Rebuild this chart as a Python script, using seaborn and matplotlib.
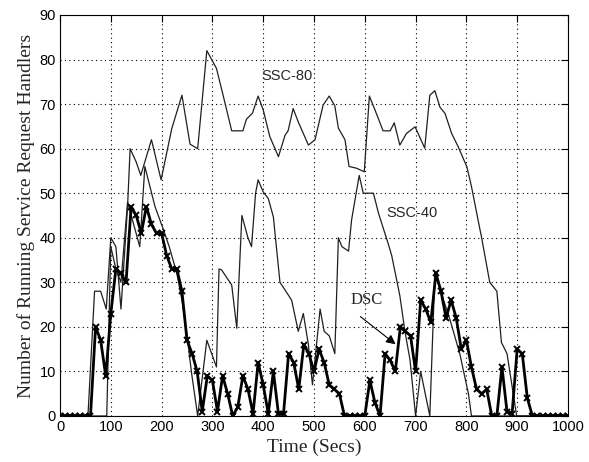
import numpy as np
import pandas as pd
import matplotlib
matplotlib.use("Agg")
import matplotlib.pyplot as plt
import seaborn as sns

# ---------------- data ----------------
# SSC-80 vertices (time, value)
ssc80_t = [0, 55, 68, 80, 91, 100, 110, 120, 133, 138, 150, 159, 180, 199, 220, 240, 256, 271,
           289, 308, 321, 338, 360, 367, 379, 390, 400, 413, 430, 443, 449, 459, 469, 489, 502,
           518, 530, 541, 548, 561, 569, 584, 599, 609, 620, 636, 650, 658, 669, 682, 699, 718,
           728, 738, 748, 758, 771, 784, 801, 810, 823, 830, 846, 860, 869, 880, 899, 1000]
ssc80_v = [0, 0, 28, 28, 24, 40, 38, 24, 47, 60, 57, 54, 62, 53, 64.5, 72, 61, 60,
           82, 78, 72, 64, 64, 66.6, 68, 71.8, 68.7, 62.7, 58.2, 63, 64, 69, 66, 60.8, 62,
           69.8, 71.8, 69.6, 64.6, 62, 56, 55.6, 54.8, 71.8, 68.7, 64, 64, 65.8, 60.8, 63.4, 64.9, 60.1,
           72, 73, 69.3, 67.9, 63.4, 60.4, 55.9, 51.5, 44, 40, 30, 28, 16.5, 14, 0, 0]

# SSC-40 vertices (time, value)
ssc40_t = [0, 92, 97, 100, 110, 120, 133, 145, 157, 167, 187, 203, 215, 230, 240, 249, 259, 271,
           289, 308, 313, 318, 338, 348, 358, 370, 377, 385, 390, 400, 410, 420, 433, 456, 469,
           479, 489, 497, 512, 520, 530, 541, 548, 555, 568, 574, 589, 597, 617, 627, 646, 653,
           669, 679, 689, 700, 710, 728, 738, 768, 787, 804, 810, 1000]
ssc40_v = [0, 0, 24, 38, 33, 30, 48, 43, 38, 56, 47, 42, 38, 32, 26, 19, 9.6, 0,
           17, 11, 33, 32.8, 29.4, 19.7, 45, 40, 38, 50, 53, 50.3, 48.8, 44.7, 30, 26, 19,
           23, 16, 7, 24, 19, 18, 14, 40, 38, 37, 44, 54, 50, 50, 45.5, 38.7, 36,
           27, 19, 12.6, 0, 10, 0, 32, 21.5, 14, 5, 0, 0]

# DSC sampled every 10 seconds
dsc_t = list(range(0, 1001, 10))
dsc_v = [0, 0, 0, 0, 0, 0, 0,                       # 0-60
         20, 17, 9, 23, 33, 32, 30, 47, 45, 41,      # 70-160
         47, 43, 41, 41, 36, 33, 33, 28, 17, 14,     # 170-260
         10, 1, 9, 8, 1, 9, 5, 0, 2, 9,              # 270-360
         6, 0.5, 12, 7, 0.5, 10, 0.5, 0.5, 14, 12,   # 370-460
         6, 16, 14, 10, 15, 12, 7, 6, 5, 0,          # 470-560
         0, 0, 0, 0, 8, 3, 0, 14, 12.5, 10,          # 570-660
         20, 19, 18, 10, 26, 24, 21, 32, 28, 22,     # 670-760
         26, 22, 15, 17, 11, 6, 5, 6, 0, 0,          # 770-860
         11, 1, 0.5, 15, 14, 4, 0, 0, 0, 0,          # 870-960
         0, 0, 0, 0]                                 # 970-1000

x_ticks = [0, 100, 200, 300, 400, 500, 600, 700, 800, 900, 1000]
y_ticks = [0, 10, 20, 30, 40, 50, 60, 70, 80, 90]

# ---------------- plot ----------------
sns.set_style("white")
plt.rcParams['font.family'] = ['Liberation Sans', 'DejaVu Sans']

fig = plt.figure(figsize=(5.89, 4.62), dpi=100)
ax = fig.add_axes([0.1019, 0.0996, 0.8624, 0.8680])

df80 = pd.DataFrame({"t": ssc80_t, "v": ssc80_v})
df40 = pd.DataFrame({"t": ssc40_t, "v": ssc40_v})
dfd = pd.DataFrame({"t": dsc_t, "v": dsc_v})

sns.lineplot(data=df80, x="t", y="v", ax=ax, color="#202020", linewidth=0.9, sort=False)
sns.lineplot(data=df40, x="t", y="v", ax=ax, color="#202020", linewidth=0.9, sort=False)
sns.lineplot(data=dfd, x="t", y="v", ax=ax, color="black", linewidth=2.0, sort=False,
             marker="x", markersize=5, markeredgewidth=1.4, markeredgecolor="black")

ax.set_xlim(0, 1000)
ax.set_ylim(0, 90)
ax.set_xticks(x_ticks)
ax.set_yticks(y_ticks)
ax.tick_params(direction="in", length=5, width=0.8, top=True, right=True,
               labelsize=10.5, colors="black", pad=3)
ax.grid(True, color="black", linestyle=(0, (1, 3)), linewidth=0.8)
for s in ax.spines.values():
    s.set_color("black")
    s.set_linewidth(0.8)

ax.set_xlabel("Time (Secs)", family="Liberation Serif", fontsize=14, labelpad=3)
ax.set_ylabel("Number of Running Service Request Handlers", family="Liberation Serif",
              fontsize=14, labelpad=3)

ax.text(397, 76.3, "SSC-80", fontsize=10.5, va="center", ha="left", family="Liberation Sans")
ax.text(643, 45.5, "SSC-40", fontsize=10.5, va="center", ha="left", family="Liberation Sans")
ax.text(571, 26, "DSC", fontsize=12, va="center", ha="left", family="Liberation Serif")
ax.annotate("", xy=(665, 15.7), xytext=(587, 22.7),
            arrowprops=dict(arrowstyle="-|>", color="black", lw=0.8, mutation_scale=14))

fig.savefig("out.png", dpi=100, facecolor="white")
